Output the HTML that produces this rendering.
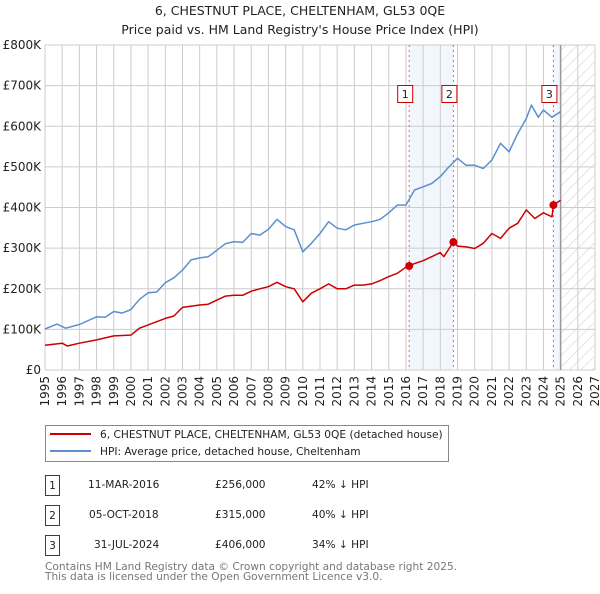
<!DOCTYPE html>
<html><head><meta charset="utf-8"><style>
body{margin:0;background:#fff;font-family:"DejaVu Sans","Liberation Sans",sans-serif;}
svg text{font-family:"DejaVu Sans","Liberation Sans",sans-serif;}
</style></head><body>
<svg id="c" width="600" height="590" xmlns="http://www.w3.org/2000/svg">
<defs><pattern id="hatch" width="8" height="8" patternUnits="userSpaceOnUse" patternTransform="rotate(45)"><line x1="0" y1="0" x2="0" y2="8" stroke="#ccc" stroke-width="1"/></pattern></defs>
<text x="300" y="15" text-anchor="middle" font-size="12.5" fill="#222">6, CHESTNUT PLACE, CHELTENHAM, GL53 0QE</text>
<text x="300" y="34" text-anchor="middle" font-size="12.5" fill="#222">Price paid vs. HM Land Registry's House Price Index (HPI)</text>
<g id="plot"></g>
<g>
<rect x="45.5" y="425.5" width="403" height="36" fill="#fff" stroke="#888"/>
<line x1="50" y1="434" x2="91" y2="434" stroke="#cc0000" stroke-width="2"/>
<text x="100" y="438" font-size="10.6" fill="#222">6, CHESTNUT PLACE, CHELTENHAM, GL53 0QE (detached house)</text>
<line x1="50" y1="451" x2="91" y2="451" stroke="#5b8fd0" stroke-width="2"/>
<text x="100" y="455" font-size="10.6" fill="#222">HPI: Average price, detached house, Cheltenham</text>
</g>
<g font-size="10.6" fill="#222">
<rect x="45.5" y="475.5" width="14" height="20" fill="#fff" stroke="#cc0000"/>
<text x="52.5" y="489" text-anchor="middle">1</text>
<text x="88" y="488">11-MAR-2016</text>
<text x="215" y="488">£256,000</text>
<text x="312" y="488">42% ↓ HPI</text>
<rect x="45.5" y="505.5" width="14" height="20" fill="#fff" stroke="#cc0000"/>
<text x="52.5" y="519" text-anchor="middle">2</text>
<text x="89" y="518">05-OCT-2018</text>
<text x="215" y="518">£315,000</text>
<text x="312" y="518">40% ↓ HPI</text>
<rect x="45.5" y="535.5" width="14" height="20" fill="#fff" stroke="#cc0000"/>
<text x="52.5" y="549" text-anchor="middle">3</text>
<text x="94" y="548">31-JUL-2024</text>
<text x="215" y="548">£406,000</text>
<text x="312" y="548">34% ↓ HPI</text>
</g>
<text x="45" y="570" font-size="10.6" fill="#777">Contains HM Land Registry data © Crown copyright and database right 2025.</text>
<text x="45" y="580" font-size="10.6" fill="#777">This data is licensed under the Open Government Licence v3.0.</text>
</svg>
<script>
const hpiYears=[1995,1995.7,1996.2,1997,1998,1998.5,1999,1999.5,2000,2000.5,2001,2001.5,2002,2002.5,2003,2003.5,2004,2004.5,2005,2005.5,2006,2006.5,2007,2007.5,2008,2008.5,2009,2009.5,2010,2010.5,2011,2011.5,2012,2012.5,2013,2013.5,2014,2014.5,2015,2015.5,2016,2016.5,2017,2017.5,2018,2018.5,2019,2019.5,2020,2020.5,2021,2021.5,2022,2022.5,2023,2023.3,2023.7,2024,2024.5,2025];
const hpiValues=[101,113,103,112,131,130,144,140,149,174,190,192,215,227,246,271,276,279,295,311,316,314,336,332,346,371,353,345,291,312,336,365,349,345,357,361,365,371,387,406,406,443,451,459,476,500,521,504,504,496,517,558,537,582,619,652,622,640,622,636];
const propYears=[1995,1996,1996.3,1997,1998,1999,2000,2000.5,2001,2002,2002.5,2003,2004,2004.5,2005,2005.5,2006,2006.5,2007,2007.5,2008,2008.5,2009,2009.5,2010,2010.5,2011,2011.5,2012,2012.5,2013,2013.5,2014,2014.5,2015,2015.5,2016,2016.19,2016.5,2017,2017.5,2018,2018.2,2018.76,2019,2019.5,2020,2020.5,2021,2021.5,2022,2022.5,2023,2023.5,2024,2024.5,2024.58,2025];
const propValues=[61,66,59,66,74,84,86,103,111,127,133,154,160,162,172,182,184,184,194,200,205,216,205,200,168,189,200,212,200,200,209,209,212,220,230,238,253,256,262,269,279,289,279,315,305,303,299,312,336,324,349,361,394,373,387,377,406,418];
const saleLabels=["1","2","3"];
const saleYears=[2016.19,2018.76,2024.58];
const salePrices=[256,315,406];
const yTicks=[0,100,200,300,400,500,600,700,800];
const yTickLabels=["£0","£100K","£200K","£300K","£400K","£500K","£600K","£700K","£800K"];
const xTicks=[1995,1996,1997,1998,1999,2000,2001,2002,2003,2004,2005,2006,2007,2008,2009,2010,2011,2012,2013,2014,2015,2016,2017,2018,2019,2020,2021,2022,2023,2024,2025,2026,2027];
const L=45,R=595,T=45,B=370;
const X=y=>L+(y-1995)*(R-L)/32, Y=v=>B-v*(B-T)/800;
const NS="http://www.w3.org/2000/svg", g=document.getElementById('plot');
function mk(t,a,p){const e=document.createElementNS(NS,t);for(const k in a)e.setAttribute(k,a[k]);(p||g).appendChild(e);return e;}
let s=mk('rect',{x:X(saleYears[0]),y:T,width:X(saleYears[1])-X(saleYears[0]),height:B-T,fill:'#eef3fc',opacity:0.75});

s=mk('rect',{x:X(saleYears[2]),y:T,width:X(2025)-X(saleYears[2]),height:B-T,fill:'#eef3fc',opacity:0.75});

s=mk('rect',{x:X(2025),y:T,width:X(2027)-X(2025),height:B-T,fill:'url(#hatch)'});

yTicks.forEach((v,i)=>{
 const l=mk('line',{x1:L,x2:R,y1:Y(v),y2:Y(v),stroke:'#ccc','stroke-width':1});
 
 const t=mk('text',{x:L-4,y:Y(v)+4,'text-anchor':'end','font-size':12,fill:'#222'});
 t.textContent=yTickLabels[i];
 
});
xTicks.forEach(y=>{
 const l=mk('line',{x1:X(y),x2:X(y),y1:T,y2:B,stroke:'#ccc','stroke-width':1});
 
 const t=mk('text',{x:0,y:0,'text-anchor':'end','font-size':12,fill:'#222',transform:`translate(${X(y)+4},${B+6}) rotate(-90)`});
 t.textContent=y;
 
});
let nl=mk('line',{x1:X(2025),x2:X(2025),y1:T,y2:B,stroke:'#999','stroke-width':1.5});

saleYears.forEach((y,i)=>{
 const l=mk('line',{x1:X(y),x2:X(y),y1:T,y2:B,stroke:'#f06060','stroke-width':1,'stroke-dasharray':'2,3'});
 
});
function path(xs,vs,col,name){
 const p=mk('path',{d:xs.map((x,i)=>(i?'L':'M')+X(x).toFixed(1)+','+Y(vs[i]).toFixed(1)).join(''),fill:'none',stroke:col,'stroke-width':1.5,'stroke-linejoin':'round'});
 
}
path(hpiYears,hpiValues,'#5b8fd0','hpi-line');
path(propYears,propValues,'#cc0000','property-price-line');
saleYears.forEach((y,i)=>{
 const c=mk('circle',{cx:X(y),cy:Y(salePrices[i]),r:4,fill:'#cc0000'});
 
 const b=mk('rect',{x:X(y)-11.5,y:85.5,width:15,height:17,fill:'#fff',stroke:'#cc0000'});
 
 const t=mk('text',{x:X(y)-4,y:98,'text-anchor':'middle','font-size':11,fill:'#222'});
 t.textContent=saleLabels[i];
 
});
</script>
</body></html>
